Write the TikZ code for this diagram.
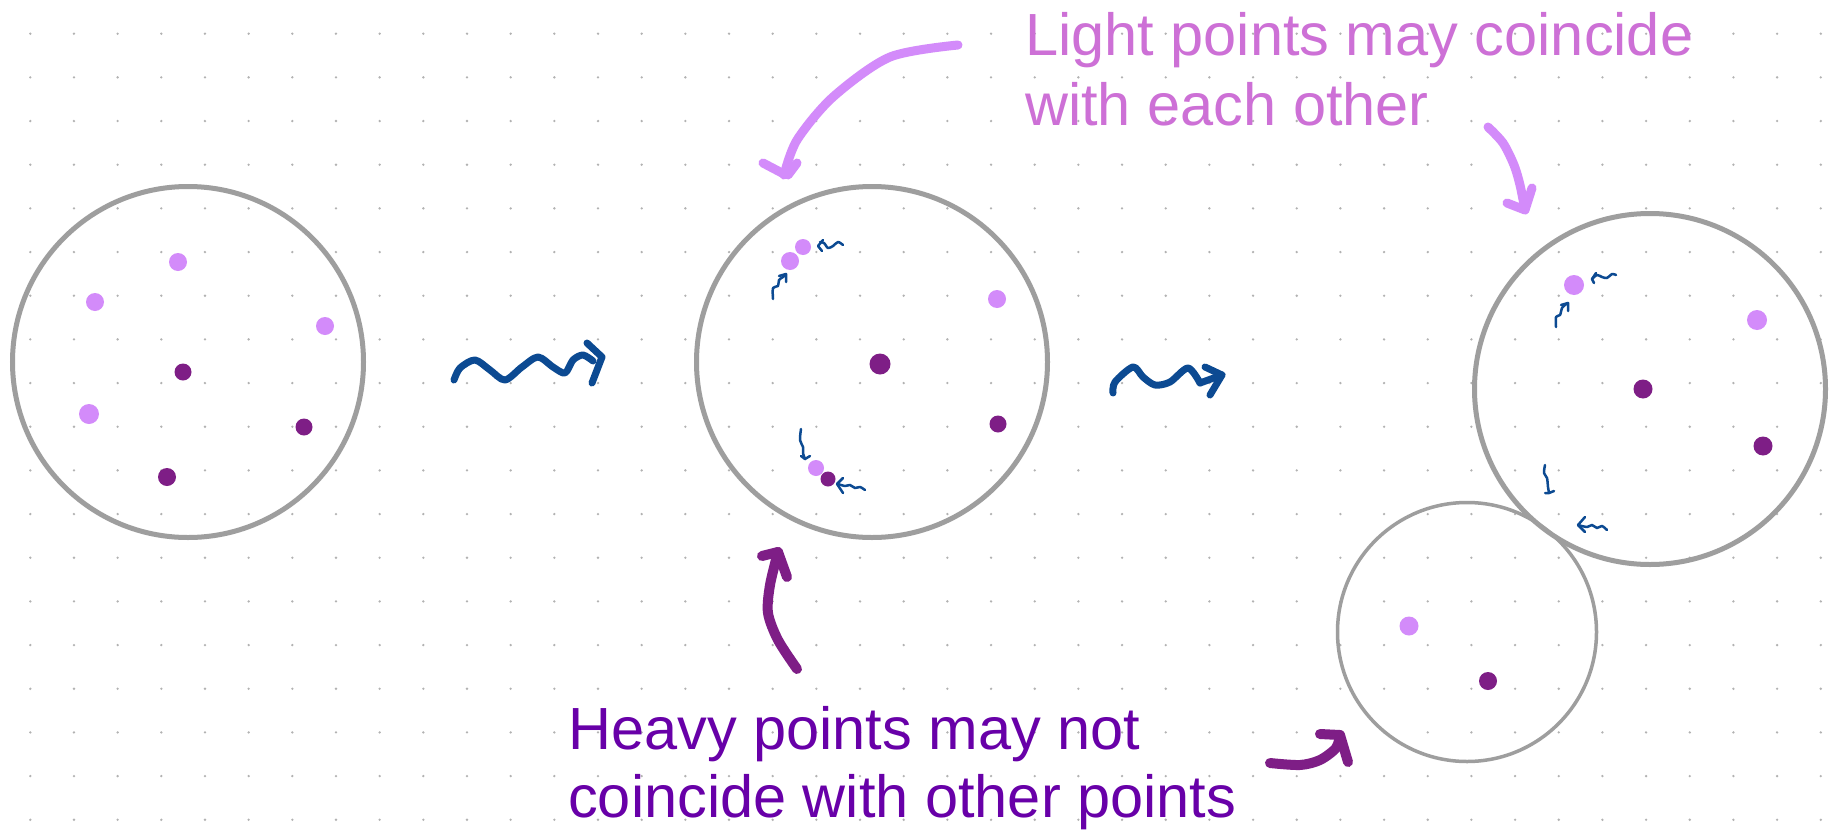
\documentclass[tikz,border=0pt]{standalone}
\usepackage{fontspec}
\setmainfont{Liberation Sans}
\definecolor{dotgray}{RGB}{178,178,178}
\definecolor{ringgray}{RGB}{158,158,158}
\definecolor{lightpt}{RGB}{211,139,250}
\definecolor{heavypt}{RGB}{126,30,134}
\definecolor{wigblue}{RGB}{12,74,146}
\definecolor{lighttxt}{RGB}{205,112,214}
\definecolor{heavytxt}{RGB}{104,0,168}
\tikzset{
  ring/.style   = {circle, draw=ringgray, line width=5pt, minimum size=351pt,
                   inner sep=0pt},
  ringsm/.style = {ring, line width=3.5pt, minimum size=259pt},
  lpt/.style    = {circle, fill=lightpt, minimum size=18pt, inner sep=0pt},
  hpt/.style    = {circle, fill=heavypt, minimum size=17pt, inner sep=0pt},
  wig/.style    = {draw=wigblue, line width=7pt, line cap=round, line join=round},
  wigs/.style   = {wig, line width=2.5pt},
  parr/.style   = {draw=lightpt, line width=9pt, line cap=round, line join=round},
  harr/.style   = {draw=heavypt, line width=10pt, line cap=round, line join=round},
  txt/.style    = {font=\fontsize{59.5}{70}\selectfont, inner sep=0pt, align=left,
                   anchor=base west},
}

\begin{document}
\begin{tikzpicture}[x=1pt, y=-1pt]
  \useasboundingbox[fill=white] (0,0) rectangle (1829,830);
  % dot grid
  \foreach \i in {0,...,41}
    \foreach \j in {0,...,18}
      \fill[dotgray] (30.3+43.67*\i, 33.7+43.67*\j) circle (1.3pt);

  % first disc
  \node[ring] (c1) at (188,362) {};
  \node[lpt] (a1) at (178,262) {};
  \node[lpt] (a2) at (95,302) {};
  \node[lpt] (a3) at (325,326) {};
  \node[lpt, minimum size=20pt] (a4) at (89,414) {};
  \node[hpt] (h1) at (183,372) {};
  \node[hpt] (h2) at (304,427) {};
  \node[hpt, minimum size=18pt] (h3) at (167,477) {};

  % first step
  \draw[wig] plot[smooth] coordinates {(454,380) (460,368) (475,360) (490,370)
    (505,380) (522,367) (538,357) (553,367) (565,373) (573,360) (583,355)
    (593,361)};
  \draw[wig] (587,343) -- (602,357) -- (592,383);

  % second disc
  \node[ring] (c2) at (872,362) {};
  \node[lpt, minimum size=16pt] (b1) at (803,247) {};
  \node[lpt] (b2) at (790,261) {};
  \node[lpt] (b3) at (997,299) {};
  \node[lpt, minimum size=16pt] (b4) at (816,468) {};
  \node[hpt, minimum size=21pt] (k1) at (880,364) {};
  \node[hpt] (k2) at (998,424) {};
  \node[hpt, minimum size=15pt] (k3) at (828,479) {};
  \draw[wigs] plot[smooth] coordinates {(843,245) (838,242) (833,246) (828,248)
    (824,243) (820,242)};
  \draw[wigs] (823,240) -- (818,246) -- (822,251);
  \draw[wigs] plot[smooth] coordinates {(773,299) (773,288) (778,286) (779,280)
    (783,277) (786,274)};
  \draw[wigs] (779,276) -- (786,274) -- (786,282);
  \draw[wigs] plot[smooth] coordinates {(801,429) (800,440) (803,447) (803,453)
    (805,459)};
  \draw[wigs] (801,456) -- (805,459) -- (810,456);
  \draw[wigs] plot[smooth] coordinates {(865,490) (860,487) (855,488) (850,485)
    (845,486) (838,484)};
  \draw[wigs] (843,478) -- (837,484) -- (843,493);

  % second step
  \draw[wig] plot[smooth] coordinates {(1113,393) (1115,382) (1133,367)
    (1143,377) (1155,385) (1170,382) (1188,368) (1200,383)};
  \draw[wig] (1200,383) -- (1222,375);
  \draw[wig] (1205,367) -- (1222,375) -- (1210,395);

  % third disc
  \node[ring] (c3) at (1650,389) {};
  \node[lpt, minimum size=20pt] (e1) at (1574,285) {};
  \node[lpt, minimum size=20pt] (e2) at (1757,320) {};
  \node[hpt, minimum size=19pt] (m1) at (1643,389) {};
  \node[hpt, minimum size=19pt] (m2) at (1763,446) {};
  \draw[wigs] plot[smooth] coordinates {(1616,275) (1612,274) (1607,278)
    (1602,277) (1597,275) (1592,279)};
  \draw[wigs] (1596,273) -- (1592,279) -- (1594,283);
  \draw[wigs] plot[smooth] coordinates {(1556,327) (1556,317) (1560,315)
    (1562,308) (1565,305) (1568,303)};
  \draw[wigs] (1561,305) -- (1568,303) -- (1568,311);
  \draw[wigs] plot[smooth] coordinates {(1545,465) (1544,473) (1547,478)
    (1548,487) (1549,493)};
  \draw[wigs] (1545,493) -- (1549,493) -- (1554,491);
  \draw[wigs] plot[smooth] coordinates {(1607,530) (1602,526) (1597,528)
    (1592,525) (1587,527) (1578,525)};
  \draw[wigs] (1585,517) -- (1578,525) -- (1585,532);

  % split-off disc
  \node[ringsm] (c4) at (1467,632) {};
  \node[lpt, minimum size=19pt] (f1) at (1409,626) {};
  \node[hpt, minimum size=18pt] (n1) at (1488,681) {};

  % light remarks
  \draw[parr] plot[smooth] coordinates {(958,45) (890,57) (833,97) (797,140)
    (784,175)};
  \draw[parr] (763,163) -- (782,173) (797,163) -- (788,175);
  \draw[parr] plot[smooth] coordinates {(1488,127) (1503,143) (1514,165)
    (1520,185) (1525,210)};
  \draw[parr] (1507,203) -- (1525,210) -- (1532,188);
  \node[txt, text=lighttxt] (lt) at (1025,125) {Light points may coincide\\with each other};

  % heavy remarks
  \draw[harr] plot[smooth] coordinates {(797,669) (778,640) (768,613) (770,585)
    (778,552)};
  \draw[harr] (762,556) -- (778,552) -- (787,577);
  \draw[harr] plot[smooth] coordinates {(1270,763) (1300,765) (1320,760)
    (1336,748) (1340,735)};
  \draw[harr] (1320,734) -- (1340,735) -- (1348,762);
  \node[txt, text=heavytxt, font=\fontsize{59.5}{68}\selectfont] (ht) at (568,817)
    {Heavy points may not\\coincide with other points};
\end{tikzpicture}
\end{document}
